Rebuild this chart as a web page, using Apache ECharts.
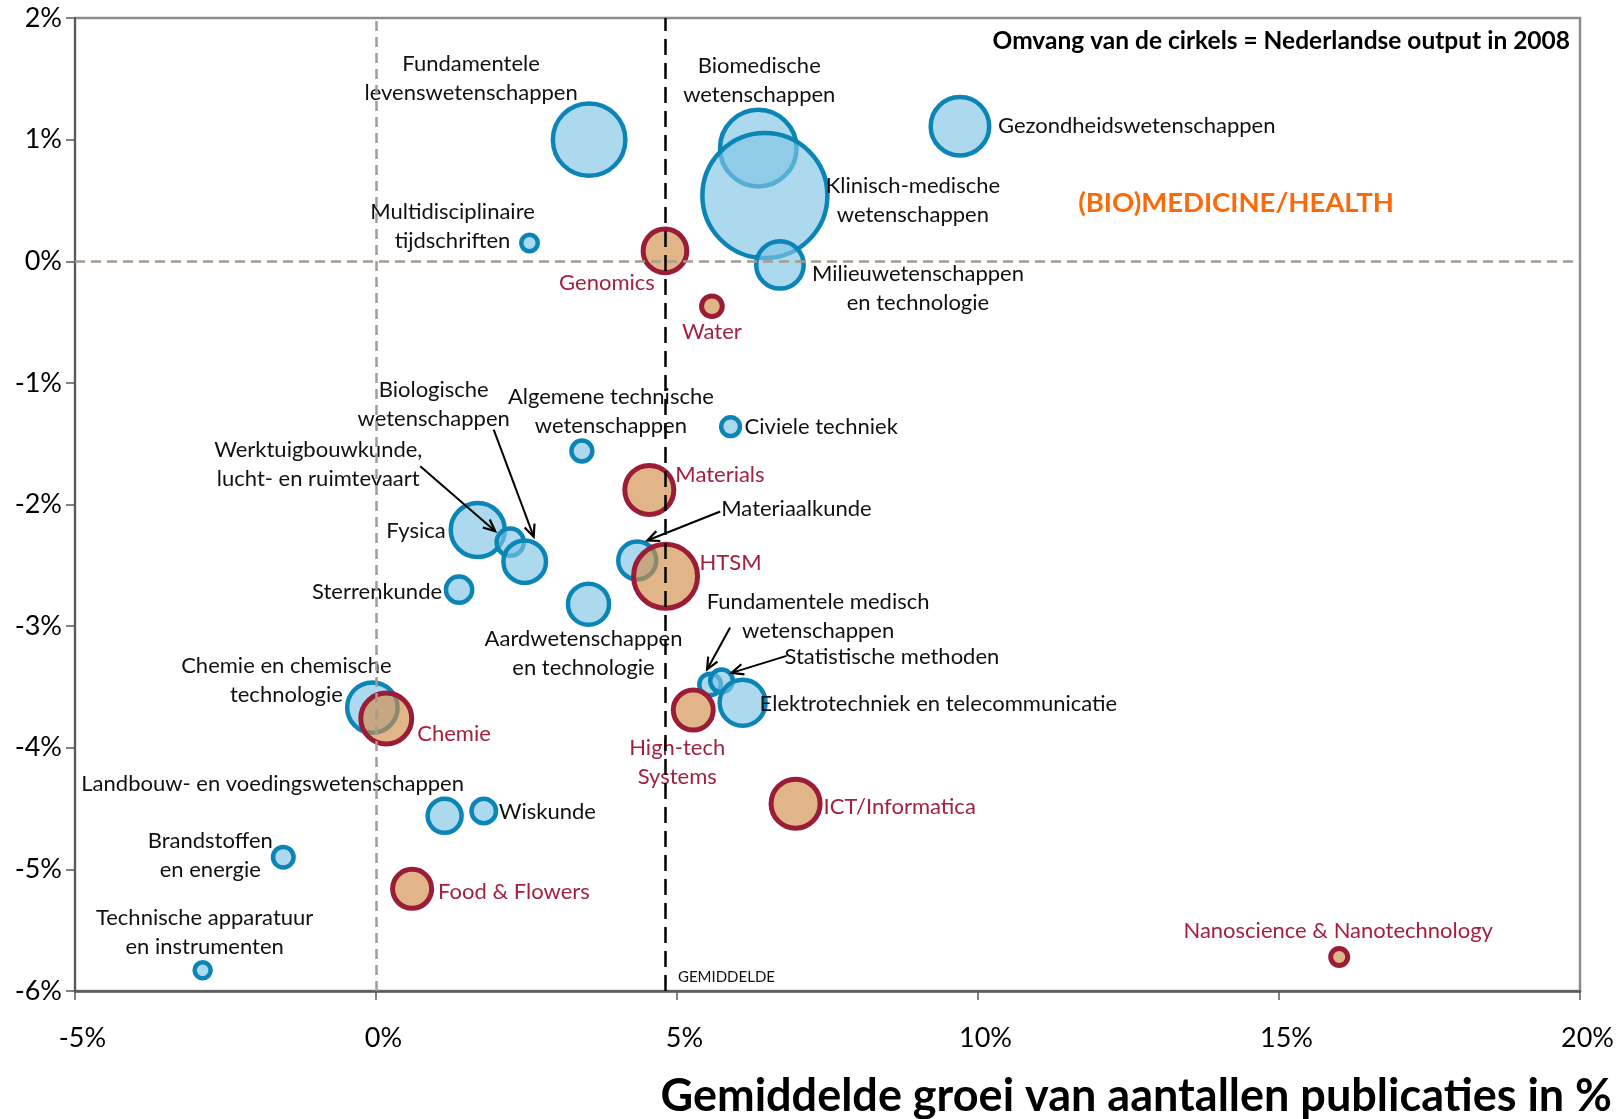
<!DOCTYPE html>
<html>
<head>
<meta charset="utf-8">
<script src="https://cdn.jsdelivr.net/npm/echarts@6/dist/echarts.min.js"></script>
<style>
  html, body { margin: 0; padding: 0; background: #fff; }
  #chart { width: 1624px; height: 1119px; }
</style>
</head>
<body>
<div id="chart"></div>
<script>
// disciplines (blauwe cirkels)
const disciplines = [
  'Fundamentele\nlevenswetenschappen', 'Biomedische\nwetenschappen', 'Klinisch-medische\nwetenschappen',
  'Gezondheidswetenschappen', 'Multidisciplinaire\ntijdschriften', 'Milieuwetenschappen\nen technologie',
  'Algemene technische\nwetenschappen', 'Civiele techniek', 'Fysica', 'Werktuigbouwkunde,\nlucht- en ruimtevaart',
  'Biologische\nwetenschappen', 'Sterrenkunde', 'Aardwetenschappen\nen technologie', 'Materiaalkunde',
  'Fundamentele medisch\nwetenschappen', 'Statistische methoden', 'Elektrotechniek en telecommunicatie',
  'Chemie en chemische\ntechnologie', 'Landbouw- en voedingswetenschappen', 'Wiskunde',
  'Brandstoffen\nen energie', 'Technische apparatuur\nen instrumenten'
];
const disciplineGrowth = [3.54, 6.35, 6.46, 9.70, 2.55, 6.71, 3.42, 5.89, 1.69, 2.23, 2.47, 1.38, 3.53, 4.34, 5.55, 5.74, 6.09, -0.06, 1.14, 1.79, -1.54, -2.88];
const disciplineChange = [1.00, 0.93, 0.54, 1.11, 0.15, -0.03, -1.56, -1.36, -2.21, -2.31, -2.47, -2.70, -2.82, -2.46, -3.48, -3.45, -3.63, -3.67, -4.56, -4.52, -4.90, -5.83];
const disciplineOutput = [3360, 3750, 10000, 2190, 175, 1440, 280, 225, 1870, 475, 1160, 440, 1080, 925, 300, 330, 1350, 1630, 740, 385, 270, 165];

// topsectoren (rode cirkels)
const topsectors = ['Genomics', 'Water', 'Materials', 'HTSM', 'High-tech\nSystems', 'Chemie', 'ICT/Informatica', 'Food & Flowers', 'Nanoscience & Nanotechnology'];
const topsectorGrowth = [4.80, 5.58, 4.54, 4.81, 5.27, 0.17, 6.97, 0.60, 16.0];
const topsectorChange = [0.085, -0.37, -1.88, -2.59, -3.69, -3.76, -4.46, -5.16, -5.72];
const topsectorOutput = [1220, 275, 1540, 2620, 1020, 1660, 1540, 975, 185];

const meanGrowth = 4.8;

// label plaatsing t.o.v. het midden van de cirkel [dx, dy, align]
const blueLabelPos = [
  [-118, -61, 'center'], [1, -68, 'center'], [148, 5, 'center'], [38, 0, 'left'], [-77, -17, 'center'],
  [138, 24, 'center'], [29, -40, 'center'], [14, 0, 'left'], [-32, 1, 'right'], [-192, -78, 'center'],
  [-91, -157, 'center'], [-17, 2, 'right'], [-5, 49, 'center'], [84, -52, 'left'], [108, -68, 'center'],
  [63, -24, 'left'], [17, 1, 'left'], [-86, -27, 'center'], [-172, -32, 'center'], [15, 1, 'left'],
  [-73, -2, 'center'], [2, -38, 'center']
];
const redLabelPos = [
  [-58, 32, 'center'], [0, 26, 'center'], [26, -15, 'left'], [34, -13, 'left'], [-16, 52, 'center'],
  [31, 15, 'left'], [28, 3, 'left'], [26, 3, 'left'], [-1, -26, 'center']
];
// pijlen: [index discipline, tip dx, tip dy, staart dx, staart dy]
const arrows = [
  [9, -15, -11, -90, -76],
  [10, 9, -25, -31, -132],
  [13, 10, -20, 83, -49],
  [14, -3, -15, 20, -57],
  [15, 10, -8, 65, -25]
];

const FONT = 'Lato';
const sizeScale = 1.25;

const chartDom = document.getElementById('chart');
const myChart = echarts.init(chartDom);

function makeData(names, xs, ys, out, pos) {
  return names.map((n, i) => ({
    name: n,
    value: [xs[i], ys[i], out[i]],
    label: { offset: [pos[i][0], pos[i][1]], align: pos[i][2] }
  }));
}

const labelBase = {
  show: true,
  position: 'inside',
  verticalAlign: 'middle',
  fontFamily: FONT,
  fontSize: 22,
  lineHeight: 29,
  formatter: p => p.name
};

const option = {
  animation: false,
  grid: {
    left: 75, right: 44, top: 18, bottom: 128,
    show: true, borderColor: '#8c8c8c', borderWidth: 2.5
  },
  xAxis: {
    type: 'value', min: -5, max: 20, interval: 5,
    axisLine: { onZero: false, lineStyle: { color: '#595959', width: 2.5 } },
    axisTick: { show: true, length: 9, lineStyle: { color: '#595959', width: 1.5 } },
    splitLine: { show: false },
    axisLabel: { formatter: '{value}%', fontFamily: FONT, fontSize: 27, color: '#000', margin: 34, padding: [0, 0, 0, 15] }
  },
  yAxis: {
    type: 'value', min: -6, max: 2, interval: 1,
    axisLine: { show: true, onZero: false, lineStyle: { color: '#595959', width: 2 } },
    axisTick: { show: true, inside: false, length: 9, lineStyle: { color: '#595959', width: 1.5 } },
    splitLine: { show: false },
    axisLabel: { formatter: '{value}%', fontFamily: FONT, fontSize: 27, color: '#000', margin: 13 }
  },
  series: [
    {
      type: 'scatter', name: 'lijnen', z: 1, silent: true, data: [],
      markLine: {
        silent: true, symbol: 'none', animation: false,
        label: { show: false },
        data: [
          { xAxis: 0, lineStyle: { color: '#a89b8f', width: 2.5, type: [10, 6] } },
          { yAxis: 0, lineStyle: { color: '#a89b8f', width: 2.5, type: [10, 6] } },
          { xAxis: meanGrowth, lineStyle: { color: '#000', width: 2.5, type: [16, 8] } }
        ]
      }
    },
    {
      type: 'scatter', name: 'Disciplines', z: 3, silent: true,
      data: makeData(disciplines, disciplineGrowth, disciplineChange, disciplineOutput, blueLabelPos),
      symbolSize: v => Math.sqrt(v[2]) * sizeScale,
      itemStyle: { color: 'rgba(129,197,229,0.65)', borderColor: '#0a85b6', borderWidth: 4.5, opacity: 1 },
      label: Object.assign({ color: '#111' }, labelBase),
      emphasis: { disabled: true }
    },
    {
      type: 'scatter', name: 'Topsectoren', z: 4, silent: true,
      data: makeData(topsectors, topsectorGrowth, topsectorChange, topsectorOutput, redLabelPos),
      symbolSize: v => Math.sqrt(v[2]) * sizeScale,
      itemStyle: { color: 'rgba(211,142,72,0.65)', borderColor: '#9b1c37', borderWidth: 5, opacity: 1 },
      label: Object.assign({ color: '#a3213f' }, labelBase),
      emphasis: { disabled: true }
    }
  ]
};

myChart.setOption(option);

// pijlen en teksten die pas na de layout kunnen worden geplaatst
const graphics = [];
arrows.forEach(a => {
  const c = myChart.convertToPixel({ seriesIndex: 1 }, [disciplineGrowth[a[0]], disciplineChange[a[0]]]);
  const tip = [c[0] + a[1], c[1] + a[2]];
  const tail = [c[0] + a[3], c[1] + a[4]];
  const ang = Math.atan2(tip[1] - tail[1], tip[0] - tail[0]);
  const hl = 13, spread = 0.42;
  const h1 = [tip[0] - hl * Math.cos(ang - spread), tip[1] - hl * Math.sin(ang - spread)];
  const h2 = [tip[0] - hl * Math.cos(ang + spread), tip[1] - hl * Math.sin(ang + spread)];
  graphics.push({ type: 'polyline', z: 10, shape: { points: [tail, tip] }, style: { stroke: '#000', lineWidth: 2, fill: null } });
  graphics.push({ type: 'polyline', z: 10, shape: { points: [h1, tip, h2] }, style: { stroke: '#000', lineWidth: 2.2, fill: null } });
});

const meanPx = myChart.convertToPixel({ seriesIndex: 0 }, [meanGrowth, -6]);
graphics.push({
  type: 'text', z: 10, x: meanPx[0] + 13, y: meanPx[1] - 14,
  style: { text: 'GEMIDDELDE', font: '15px ' + FONT, fill: '#111', textAlign: 'left', textVerticalAlign: 'middle' }
});
graphics.push({
  type: 'text', z: 10, x: 1570, y: 41,
  style: { text: 'Omvang van de cirkels = Nederlandse output in 2008', font: 'bold 24.5px ' + FONT, fill: '#000', textAlign: 'right', textVerticalAlign: 'middle' }
});
graphics.push({
  type: 'text', z: 10, x: 1236, y: 203,
  style: { text: '(BIO)MEDICINE/HEALTH', font: 'bold 27.5px ' + FONT, fill: '#fa6a0a', textAlign: 'center', textVerticalAlign: 'middle' }
});
graphics.push({
  type: 'text', z: 10, x: 1612, y: 1096,
  style: { text: 'Gemiddelde groei van aantallen publicaties in %', font: 'bold 45px ' + FONT, fill: '#000', textAlign: 'right', textVerticalAlign: 'middle' }
});

myChart.setOption({ graphic: graphics });

window.addEventListener('resize', () => myChart.resize());
</script>
</body>
</html>
